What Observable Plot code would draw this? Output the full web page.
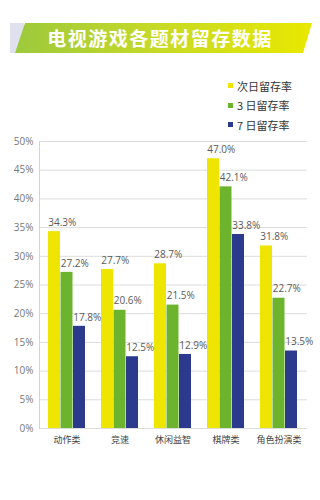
<!DOCTYPE html>
<html><head><meta charset="utf-8">
<script src="https://cdn.jsdelivr.net/npm/d3@7"></script>
<script src="https://cdn.jsdelivr.net/npm/@observablehq/plot@0.6"></script>
<style>
html,body{margin:0;padding:0;background:#fff;width:320px;height:500px;overflow:hidden;font-family:"Noto Sans CJK SC","Open Sans",sans-serif;}
#wrap{position:relative;width:320px;height:500px;}
#bgGray{position:absolute;left:10px;top:23px;width:14px;height:30px;background:#dfe1ee;}
#banner{position:absolute;left:15px;top:23px;width:297px;height:30px;background:linear-gradient(90deg,#9cc93c 0%,#c4d928 45%,#e9e800 100%);clip-path:polygon(10px 0,100% 0,calc(100% - 9px) 100%,0 100%);}
#title{position:absolute;left:0;top:23px;width:320px;height:30px;line-height:30px;text-align:center;color:#fff;font-weight:bold;font-size:19px;letter-spacing:1.5px;font-family:"Noto Sans CJK SC",sans-serif;}
#legend{position:absolute;left:228px;top:76px;font-size:11px;color:#333;font-family:"Noto Sans CJK SC",sans-serif;}
#legend div{height:19.5px;line-height:18px;display:flex;align-items:center;}
#legend span.sw{display:inline-block;width:5px;height:5px;margin-right:4px;}
#chart{position:absolute;left:0;top:135px;}
</style></head>
<body><div id="wrap">
<div id="bgGray"></div><div id="banner"></div>
<div id="title">电视游戏各题材留存数据</div>
<div id="legend"></div>
<div id="chart"></div>
</div>
<script>
const categories = ["动作类", "竞速", "休闲益智", "棋牌类", "角色扮演类"];
const seriesNames = ["次日留存率", "3 日留存率", "7 日留存率"];
const day1 = [34.3, 27.7, 28.7, 47.0, 31.8];
const day3 = [27.2, 20.6, 21.5, 42.1, 22.7];
const day7 = [17.8, 12.5, 12.9, 33.8, 13.5];
const yTicks = [0, 5, 10, 15, 20, 25, 30, 35, 40, 45, 50];
const colors = ["#eee600", "#6cb42e", "#2c3a8e"];

const seriesValues = [day1, day3, day7];

// legend
const leg = document.getElementById("legend");
seriesNames.forEach((s, i) => {
  const row = document.createElement("div");
  row.innerHTML = `<span class="sw" style="background:${colors[i]}"></span>${s}`;
  leg.appendChild(row);
});

const W = 320, ML = 39, MR = 13;
const padIn = 0.3, padOut = 0.15;
const step = (W - ML - MR) / (categories.length - padIn + 2 * padOut);
const bw = step * (1 - padIn);
const sub = bw / seriesNames.length;

const marks = [
  Plot.ruleY(yTicks, {stroke: "#dcdcdc", strokeWidth: 1}),
  Plot.frame({anchor: "left", stroke: "#d4d4d4"}),
  Plot.axisY({ticks: yTicks, tickFormat: d => d + "%", tickSize: 0, tickPadding: 6, fontSize: 10, fill: "#777", label: null, fontFamily: "Open Sans"}),
  Plot.axisX({tickSize: 0, tickPadding: 8, fontSize: 9, fill: "#444", label: null, fontFamily: "Noto Sans CJK SC"})
];
seriesNames.forEach((s, i) => {
  const data = categories.map((c, j) => ({cat: c, v: seriesValues[i][j]}));
  marks.push(Plot.barY(data, {x: "cat", y: "v", fill: colors[i], insetLeft: i * sub, insetRight: (seriesNames.length - 1 - i) * sub}));
  marks.push(Plot.text(data, {x: "cat", y: "v", text: d => d.v.toFixed(1) + "%", textAnchor: "start", dx: -bw / 2 + i * sub, dy: -9, fontSize: 10, fill: "#5a5a5a", fontFamily: "Open Sans"}));
});

const chart = Plot.plot({
  width: W, height: 318,
  marginTop: 6, marginBottom: 25, marginLeft: ML, marginRight: MR,
  style: {background: "transparent", overflow: "visible"},
  x: {domain: categories, paddingInner: padIn, paddingOuter: padOut, axis: null},
  y: {domain: [0, 50], axis: null},
  marks
});
document.getElementById("chart").appendChild(chart);
</script>
</body></html>
